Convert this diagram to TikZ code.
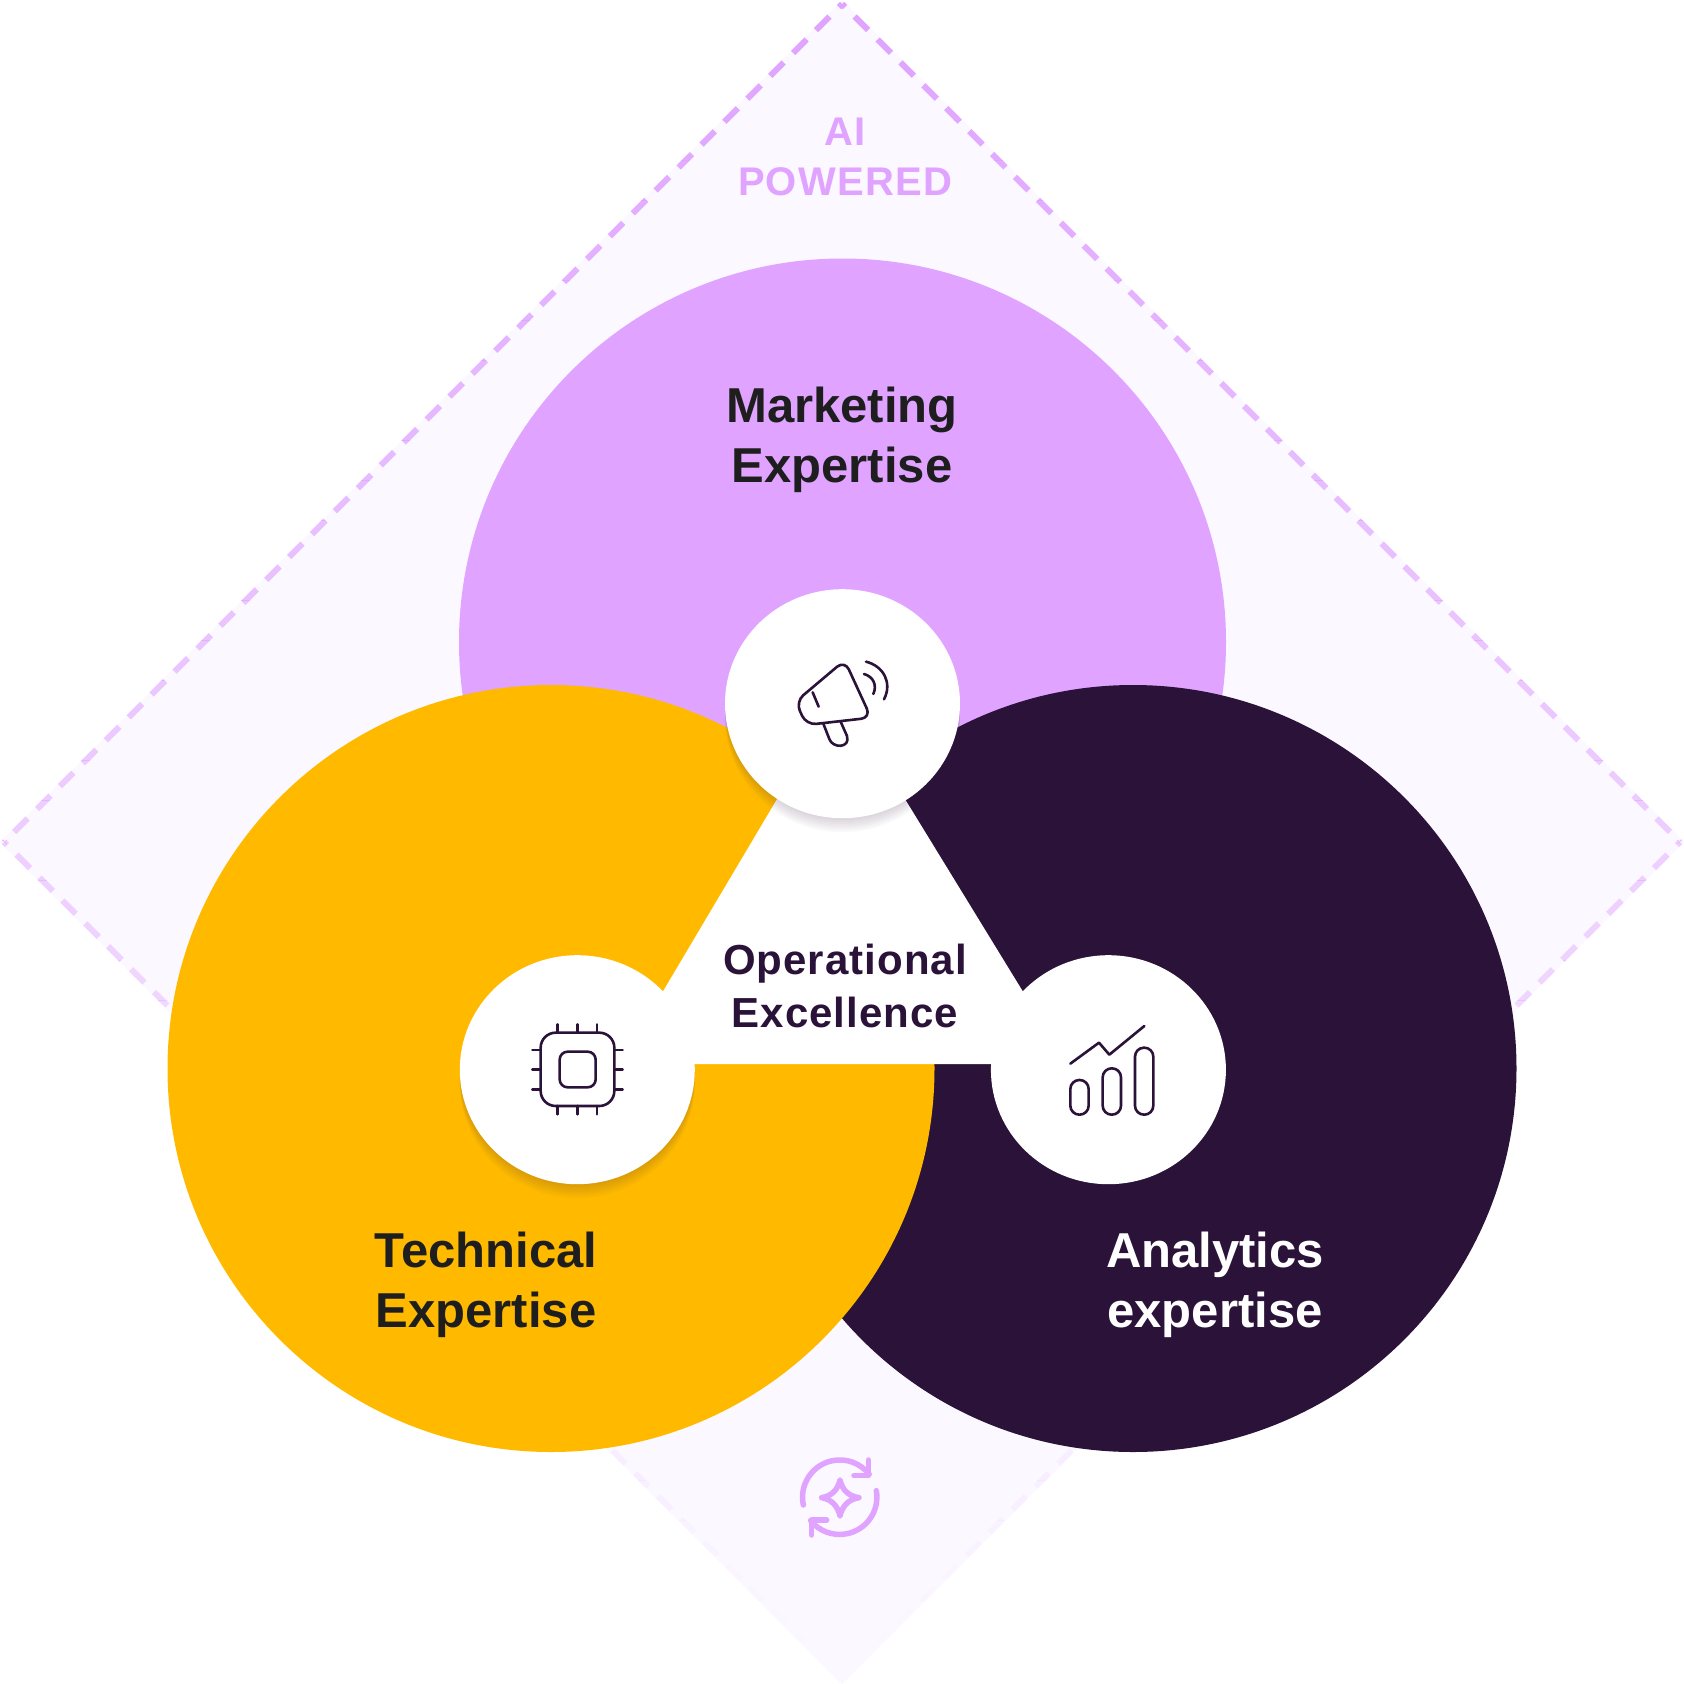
\documentclass[tikz,border=0pt]{standalone}
\usepackage{fontspec}
\usepackage{tikz}
\usetikzlibrary{positioning,shapes.geometric}
\setmainfont{Liberation Sans}
\definecolor{OrchidPink}{HTML}{E0A3FF}
\definecolor{AmberGold}{HTML}{FFBA00}
\definecolor{DeepPlum}{HTML}{2A1239}
\definecolor{InkBlack}{HTML}{1E1E1E}
\definecolor{PaleLilac}{HTML}{FBF8FF}
\tikzset{
  bigcircle/.style={circle, minimum size=767pt, inner sep=0pt},
  iconcircle/.style={ellipse, fill=white, minimum width=235pt, minimum height=229pt, inner sep=0pt},
  shadowtint/.style={fill=DeepPlum, opacity=0.022},
  dashedge/.style={draw=OrchidPink, line width=6pt, dash pattern=on 19pt off 13.4pt, dash phase=14.6pt},
  iconline/.style={draw=DeepPlum, line width=2.6pt, line cap=round, line join=round},
  refreshline/.style={draw=OrchidPink, line width=5.5pt, line cap=round, line join=round},
  bigtext/.style={align=center, inner sep=0pt, font=\fontsize{49}{60}\selectfont\bfseries},
  midtext/.style={align=center, inner sep=0pt, text=DeepPlum,
    font=\fontsize{42}{53}\selectfont\bfseries\addfontfeature{LetterSpace=2.5}},
  toptext/.style={align=center, inner sep=0pt, text=OrchidPink,
    font=\fontsize{40}{50}\selectfont\bfseries\addfontfeature{LetterSpace=3}}
}
\begin{document}
\begin{tikzpicture}[x=1pt,y=-1pt]
  \useasboundingbox (0,0) rectangle (1684,1684);
  \fill[PaleLilac] (842,0) -- (1684,842) -- (842,1684) -- (0,842) -- cycle;
  \coordinate (diamondtop) at (842,4);
  \coordinate (diamondleft) at (4,842);
  \coordinate (diamondright) at (1680,842);
  \coordinate (diamondbottom) at (842,1680);
  \foreach \y in {0,40,...,1640}{
    \pgfmathsetmacro\bandfade{max(0,1-(\y+20)/1640)}
    \begin{scope}
      \clip (0,\y) rectangle (1684,\y+40);
      \draw[dashedge, opacity=\bandfade] (diamondtop) -- (diamondleft);
      \draw[dashedge, opacity=\bandfade] (diamondtop) -- (diamondright);
      \draw[dashedge, opacity=\bandfade] (diamondleft) -- (diamondbottom);
      \draw[dashedge, opacity=\bandfade] (diamondright) -- (diamondbottom);
    \end{scope}
  }

  \node[bigcircle, fill=OrchidPink] (marketingcircle) at (842.5,642) {};
  \node[bigcircle, fill=DeepPlum] (analyticscircle) at (1133,1068.5) {};
  \node[bigcircle, fill=AmberGold] (technicalcircle) at (551,1068.5) {};
  \fill[white] (840,693) -- (1067.3,1064) -- (619.9,1064) -- cycle;

  \foreach \s in {2,4,...,14}{
    \fill[shadowtint] (842.5,703.7+\s) ellipse [x radius=117.5pt, y radius=114.5pt];
    \fill[shadowtint] (577.3,1069.7+\s) ellipse [x radius=117.5pt, y radius=114.5pt];
    \fill[shadowtint] (1108.4,1069.7+\s) ellipse [x radius=117.5pt, y radius=114.5pt];
  }
  \node[iconcircle] (marketingicon) at (842.5,703.7) {};
  \node[iconcircle] (technicalicon) at (577.3,1069.7) {};
  \node[iconcircle] (analyticsicon) at (1108.4,1069.7) {};

  \node[toptext] (aipowered) at (845,157) {AI\\POWERED};
  \node[bigtext, text=InkBlack] (marketinglabel) at (842,439.5) {Marketing\\Expertise};
  \node[midtext] (operationallabel) at (845,985.5) {Operational\\Excellence};
  \node[bigtext, text=InkBlack] (technicallabel) at (486,1285) {Technical\\Expertise};
  \node[bigtext, text=white] (analyticslabel) at (1215,1285) {Analytics\\expertise};

  \begin{scope}[shift={(700,560)},x=0.3333pt,y=-0.3333pt]
    \draw[iconline, rounded corners=10pt] (434,301) -- (513,473) -- (319,495) -- (287,425) -- cycle;
    \draw[iconline] (338,397) -- (356,440);
    \draw[iconline] (370,491) -- (388,537) .. controls (398,566) and (452,565) .. (441,528) -- (422,485);
    \draw[iconline] (492,342) .. controls (520,350) and (532,375) .. (520,402);
    \draw[iconline] (498,305) .. controls (550,318) and (578,368) .. (552,418);
  \end{scope}

  \begin{scope}[shift={(480,980)},x=0.3333pt,y=-0.3333pt]
    \draw[iconline, rounded corners=15pt] (182,158) rectangle (403,378);
    \draw[iconline, rounded corners=8pt] (239,215) rectangle (347,322);
    \foreach \p in {233,292,351}{
      \draw[iconline] (\p,133) -- (\p,158);
      \draw[iconline] (\p,378) -- (\p,403);
    }
    \foreach \p in {210,269,328}{
      \draw[iconline] (157,\p) -- (182,\p);
      \draw[iconline] (403,\p) -- (428,\p);
    }
  \end{scope}

  \begin{scope}[shift={(1020,980)},x=0.3333pt,y=-0.3333pt]
    \draw[iconline] (151,251) -- (237,188) -- (268,224) -- (373,138);
    \draw[iconline, rounded corners=9pt] (151,300) rectangle (206,404);
    \draw[iconline, rounded corners=9pt] (248,265) rectangle (303,404);
    \draw[iconline, rounded corners=9pt] (345,203) rectangle (400,404);
  \end{scope}

  \begin{scope}[shift={(760,1420)},x=0.3333pt,y=-0.3333pt]
    \draw[refreshline] (130,255) arc [start angle=192, end angle=38, radius=37.3pt];
    \draw[refreshline] (326,120) -- (326,167) -- (282,167);
    \draw[refreshline] (349,212) arc [start angle=10, end angle=-141, radius=37.3pt];
    \draw[refreshline] (155,345) -- (155,300) -- (200,300);
    \draw[refreshline] (240,180) .. controls (247,210) and (265,228) .. (297,233)
      .. controls (265,238) and (247,258) .. (240,288)
      .. controls (233,258) and (215,238) .. (185,233)
      .. controls (215,228) and (233,210) .. cycle;
  \end{scope}
\end{tikzpicture}
\end{document}
